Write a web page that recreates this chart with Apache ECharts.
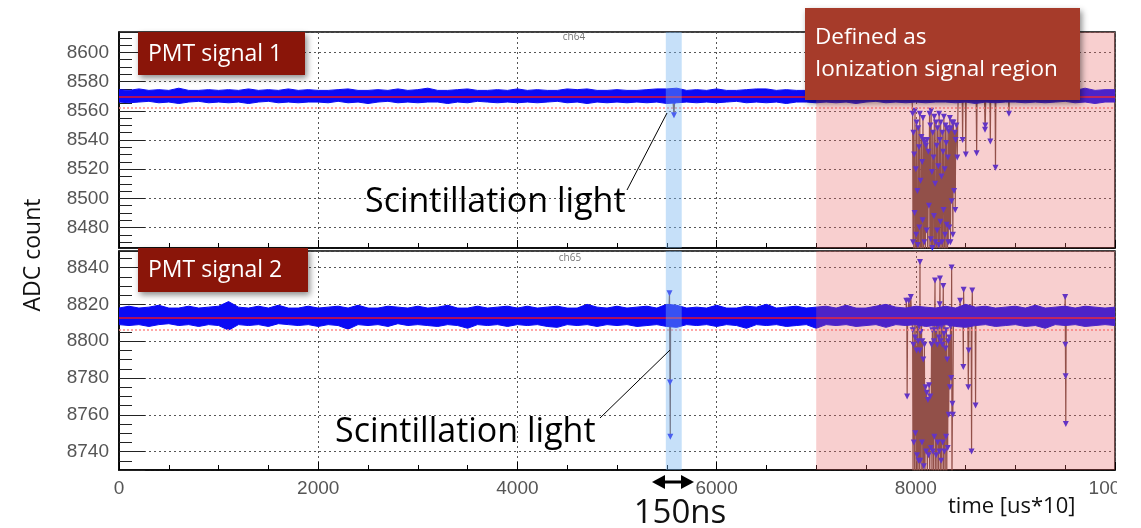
<!DOCTYPE html>
<html><head><meta charset="utf-8">
<script src="https://cdn.jsdelivr.net/npm/echarts@6/dist/echarts.min.js"></script>
<style>html,body{margin:0;padding:0;background:#fff}#c{width:1141px;height:528px}</style>
</head><body><div id="c"></div>
<script>
// ---------- data ----------
const xMin = 0, xMax = 10000, xInterval = 2000;
const topRange = [8466, 8614];
const bottomRange = [8730, 8849];
const bandStep = 100; // envelope sampled every 100 time units (0..10000)

// noise band envelope, PMT signal 1 (ch64)
const topUpper = [
8574.5,8574,8575,8574,8574.5,8574,8575.5,8574,8574,8574.5,
8574,8574.5,8574,8575,8574,8574.5,8574,8575,8574,8574.5,
8574,8574,8574.5,8575,8574,8574,8574.5,8574,8575,8574,
8574.5,8575.5,8574,8574,8574.5,8575,8574,8574,8574.5,8574,
8575,8574,8574.5,8574,8574,8575,8574.5,8575,8574,8574,
8574.5,8574,8574,8574.5,8575,8575,8575.5,8574,8574.5,8574,
8575,8574,8574,8574.5,8575,8575,8574,8574.5,8574,8574,
8574.5,8574,8575,8574,8574.5,8574,8574,8575,8574.5,8574,
8574,8574.5,8574,8574,8575,8574,8574.5,8574,8575,8574,
8574.5,8574,8574,8575,8574.5,8574,8574,8575.5,8574,8574.5,
8574.5];
const topLower = [
8566,8565.5,8566,8566.5,8565.5,8566,8565,8566,8566.5,8565.5,
8566,8565.5,8566,8565,8566,8566.5,8565.5,8566,8565.5,8566,
8566,8565.5,8566.5,8565.5,8566,8565,8566,8566.5,8565.5,8566,
8565.5,8566,8566,8565,8566,8565.5,8566.5,8566,8565.5,8566,
8565.5,8566,8565.5,8566,8566.5,8565.5,8566,8565,8566,8565.5,
8566,8565.5,8566,8565.5,8566,8565,8565.5,8566,8565.5,8566,
8565.5,8566,8566.5,8565.5,8566,8565.5,8566,8565,8566,8566,
8565.5,8566,8565.5,8566,8565,8566,8566.5,8565.5,8566,8565.5,
8566,8565.5,8566,8566,8565.5,8566,8565,8566,8565.5,8566,
8566,8565.5,8566,8565.5,8566,8566.5,8565.5,8566,8565,8566,
8566];
// noise band envelope, PMT signal 2 (ch65)
const bottomUpper = [
8818,8819,8818,8818.5,8819.5,8818,8818,8819,8818,8818.5,
8819,8821.5,8818.5,8818,8819,8818,8819.5,8818,8818,8819,
8818,8818.5,8819,8818,8819.5,8818,8818,8819,8818.5,8818,
8819,8818,8818.5,8819.5,8818,8818,8819,8818,8818.5,8819,
8818,8819,8818,8818.5,8819,8818,8818,8820,8818.5,8818,
8819,8818,8818.5,8819,8818,8820,8819.5,8818,8818.5,8818,
8819.5,8818,8818,8819,8818.5,8820,8818,8818.5,8819,8818,
8818.5,8819,8818,8819.5,8818,8818,8819,8820,8818.5,8818,
8819,8818.5,8818,8819,8818,8820,8818.5,8819,8818,8818.5,
8819,8818,8819.5,8818,8818.5,8819,8818,8819,8818.5,8818,
8818.5];
const bottomLower = [
8809,8808.5,8809,8808,8809,8809.5,8808.5,8809,8808,8809,
8808.5,8806,8809,8808.5,8809,8808,8809.5,8809,8808.5,8809,
8808,8809,8808.5,8806.5,8809,8808.5,8809,8808,8809.5,8808.5,
8809,8808.5,8808,8809,8808.5,8807,8809,8808.5,8809,8808,
8809,8808.5,8809,8808,8807.5,8809,8808.5,8809,8808,8809,
8808.5,8809,8808,8808.5,8809,8808,8807.5,8809,8808.5,8809,
8808,8809,8808.5,8807,8809,8808.5,8809,8808,8808.5,8809,
8807,8809,8808.5,8809,8808,8808.5,8809,8807.5,8809,8808.5,
8809,8808,8808.5,8809,8808,8807.5,8808.5,8809,8808,8808.5,
8809,8808,8808.5,8807,8809,8808.5,8809,8808,8808.5,8809,
8808.5];

const topMean = 8569.3, topThreshold = 8562;
const bottomMean = 8813, bottomThreshold = 8806;

// pulses (time, ADC) ch64
const topPulses = [
[5560,8569],[5572,8557],[5578,8566],[5585,8569],
[7962,8569],[7968,8558],[7972,8470],[7976,8545],[7980,8440],[7984,8530],[7988,8490],[7992,8560],
[7996,8445],[8000,8520],[8004,8475],[8008,8552],[8012,8440],[8016,8505],[8020,8468],[8024,8548],
[8028,8440],[8032,8535],[8036,8480],[8040,8558],[8044,8445],[8048,8512],[8052,8462],[8056,8542],
[8060,8440],[8064,8525],[8068,8485],[8072,8555],[8076,8440],[8080,8540],[8085,8470],[8090,8538],
[8096,8450],[8102,8536],[8108,8478],[8114,8540],[8120,8445],[8126,8532],[8132,8495],[8138,8558],
[8142,8440],[8146,8550],[8150,8472],[8154,8560],[8158,8442],[8162,8518],[8166,8466],[8170,8545],
[8174,8440],[8178,8528],[8182,8488],[8186,8556],[8190,8444],[8194,8510],[8198,8470],[8202,8552],
[8206,8440],[8210,8536],[8214,8478],[8218,8548],[8222,8442],[8226,8522],[8230,8468],[8234,8558],
[8238,8440],[8242,8540],[8246,8484],[8250,8552],[8254,8446],[8258,8515],[8262,8470],[8266,8545],
[8270,8440],[8274,8532],[8278,8492],[8282,8556],[8286,8444],[8290,8520],[8294,8475],[8298,8550],
[8302,8440],[8306,8538],[8310,8482],[8314,8548],[8318,8450],[8322,8528],[8326,8470],[8330,8546],
[8336,8480],[8342,8555],[8348,8470],[8354,8548],[8360,8498],[8366,8552],[8372,8475],[8378,8552],
[8384,8505],[8392,8545],[8396,8492],[8400,8540],[8408,8550],[8416,8528],[8425,8569],
[8466,8569],[8470,8540],[8474,8569],[8498,8569],[8502,8530],[8506,8569],
[8606,8569],[8611,8531],[8615,8569],[8690,8569],[8695,8547],[8698,8550],[8702,8569],
[8744,8569],[8748,8539],[8752,8569],[8796,8569],[8800,8521],[8804,8569],
[8930,8569],[8935,8558],[8940,8569]
];
// pulses (time, ADC) ch65
const bottomPulses = [
[5520,8813],[5527,8826],[5532,8777.5],[5535,8748],[5538,8813],
[7900,8813],[7905,8822],[7910,8813],[7913,8770],[7918,8813],[7930,8822],[7936,8813],[7950,8824],
[7958,8813],[7968,8806],[7972,8725],[7976,8798],[7980,8745],[7984,8812],[7988,8722],[7992,8802],
[7996,8750],[8000,8810],[8004,8725],[8008,8795],[8012,8738],[8016,8815],[8020,8722],[8024,8800],
[8028,8735],[8032,8808],[8036,8725],[8040,8795],[8042,8843],[8045,8735],[8050,8805],[8054,8722],
[8058,8810],[8062,8745],[8066,8800],[8070,8722],[8075,8790],[8080,8732],[8086,8798],[8092,8725],
[8098,8775],[8104,8740],[8110,8772],[8116,8725],[8122,8768],[8128,8738],[8134,8776],[8140,8722],
[8146,8770],[8152,8742],[8158,8798],[8162,8725],[8166,8806],[8170,8740],[8174,8812],[8178,8722],
[8182,8800],[8186,8748],[8190,8815],[8193,8833],[8196,8725],[8200,8806],[8204,8738],[8208,8812],
[8212,8722],[8216,8798],[8220,8745],[8224,8808],[8228,8725],[8232,8802],[8236,8740],[8240,8820],
[8243,8834],[8246,8722],[8250,8800],[8254,8735],[8258,8808],[8262,8725],[8266,8798],[8270,8745],
[8273,8815],[8276,8830],[8279,8722],[8283,8804],[8287,8740],[8291,8810],[8295,8725],[8299,8796],
[8303,8748],[8307,8806],[8311,8722],[8315,8790],[8320,8742],[8325,8800],[8330,8760],[8336,8802],
[8342,8775],[8348,8808],[8354,8780],[8358,8813],[8360,8840],[8363,8722],[8368,8766],[8372,8760],
[8378,8813],[8440,8813],[8445,8822],[8450,8813],[8474,8813],[8477,8786],[8480,8828],[8484,8813],
[8522,8813],[8527,8775],[8531,8795],[8535,8813],[8556,8813],[8560,8740],[8564,8813],[8567,8827.6],
[8571,8813],[8596,8813],[8600,8765],[8604,8813],
[9495,8813],[9500,8824],[9502,8798],[9504,8781],[9506,8755],[9510,8813]
];

const scintWindow = [5490, 5650];
const ionWindow = [7000, 10000];

// ---------- build ----------
const chart = echarts.init(document.getElementById('c'), null, {renderer: 'canvas'});
const labelFont = 'Liberation Sans, Arial, sans-serif';
const annFont = '"Open Sans", "Noto Sans", sans-serif';
const gridLine = {show: true, lineStyle: {color: '#555', type: [2, 3], width: 1}};
const plain = v => String(v);

function xAxisCfg(gi, showLabel) {
  return {
    type: 'value', gridIndex: gi, min: xMin, max: xMax, interval: xInterval,
    axisLine: {show: true, onZero: false, lineStyle: {color: '#000', width: 1.5}},
    axisTick: {show: true, inside: true, length: 8, lineStyle: {color: '#000', width: 1}},
    minorTick: {show: true, splitNumber: 4, length: 5, lineStyle: {color: '#000', width: 1}},
    axisLabel: {show: showLabel, color: '#555', fontSize: 19, fontFamily: labelFont, margin: 9, formatter: plain},
    splitLine: gridLine
  };
}
function yAxisCfg(gi, rng) {
  return {
    type: 'value', gridIndex: gi, min: rng[0], max: rng[1], minInterval: 20, maxInterval: 20, splitNumber: 7,
    axisLine: {show: true, onZero: false, lineStyle: {color: '#000', width: 1.5}},
    axisTick: {show: true, inside: true, length: 26, lineStyle: {color: '#222', width: 1}},
    minorTick: {show: true, splitNumber: 4, length: 13, lineStyle: {color: '#222', width: 1}},
    axisLabel: {show: true, color: '#555', fontSize: 19, fontFamily: labelFont, margin: 10, formatter: plain,
                showMinLabel: false, showMaxLabel: false},
    splitLine: gridLine
  };
}
function panelSeries(gi, pulses, up, lo, mean, thr) {
  return [
    {type: 'line', xAxisIndex: gi, yAxisIndex: gi, data: pulses, z: 2, showAllSymbol: true,
     symbol: 'triangle', symbolRotate: 180, symbolSize: 6,
     itemStyle: {color: '#2a22f0'}, lineStyle: {color: '#6e4a40', width: 1.2}, animation: false},
    {type: 'custom', xAxisIndex: gi, yAxisIndex: gi, z: 3, clip: true, animation: false, silent: true,
     data: [[xMin, mean]],
     renderItem: function (params, api) {
       const upPts = up.map((v, i) => api.coord([i * bandStep, v]));
       const loPts = lo.map((v, i) => api.coord([i * bandStep, v])).reverse();
       return {type: 'polygon', shape: {points: upPts.concat(loPts)},
               style: {fill: '#0a0af5', stroke: '#0a0af5', lineWidth: 1}};
     }},
    {type: 'line', xAxisIndex: gi, yAxisIndex: gi, data: [], z: 4, animation: false,
     markLine: {silent: true, z: 5, symbol: ['none', 'none'], label: {show: false}, animation: false,
       data: [
         {yAxis: mean, lineStyle: {color: '#e8102a', width: 1.5, type: 'solid'}},
         {yAxis: thr, lineStyle: {color: '#ff8a8a', width: 1.5, type: [2, 2]}}
       ]}},
    {type: 'line', xAxisIndex: gi, yAxisIndex: gi, data: [], z: 6, animation: false,
     markArea: {silent: true, z: 10, animation: false, data: [
       [{xAxis: scintWindow[0], itemStyle: {color: 'rgba(120,180,240,0.42)'}}, {xAxis: scintWindow[1]}],
       [{xAxis: ionWindow[0], itemStyle: {color: 'rgba(233,95,95,0.3)'}}, {xAxis: ionWindow[1]}]
     ]}}
  ];
}

const shadow = {shadowBlur: 6, shadowOffsetX: 2, shadowOffsetY: 3, shadowColor: 'rgba(0,0,0,0.45)'};
function txt(x, y, s, size, color, align, extra) {
  return Object.assign({type: 'text', x: x, y: y, z: 100,
    style: {text: s, fill: color, font: size + 'px ' + annFont,
            align: align, textAlign: align, verticalAlign: 'middle', textVerticalAlign: 'middle'}}, extra || {});
}

chart.setOption({
  animation: false,
  backgroundColor: '#fff',
  grid: [
    {left: 119, top: 32, right: 26, height: 216, show: true, borderColor: '#000', borderWidth: 1.5,
     backgroundColor: 'transparent', containLabel: false, outerBoundsMode: 'none'},
    {left: 119, top: 251, right: 26, height: 219, show: true, borderColor: '#000', borderWidth: 1.5,
     backgroundColor: 'transparent', containLabel: false, outerBoundsMode: 'none'}
  ],
  xAxis: [xAxisCfg(0, false), xAxisCfg(1, true)],
  yAxis: [yAxisCfg(0, topRange), yAxisCfg(1, bottomRange)],
  series: [].concat(
    panelSeries(0, topPulses, topUpper, topLower, topMean, topThreshold),
    panelSeries(1, bottomPulses, bottomUpper, bottomLower, bottomMean, bottomThreshold)
  ),
  graphic: [
    {type: 'rect', z: 90, shape: {x: 1117, y: 472, width: 30, height: 30}, style: {fill: '#fff'}},
    {type: 'rect', z: 95, shape: {x: 138, y: 32, width: 167, height: 43}, style: Object.assign({fill: '#8a1509'}, shadow)},
    {type: 'rect', z: 95, shape: {x: 138, y: 248, width: 170, height: 44}, style: Object.assign({fill: '#8a1509'}, shadow)},
    {type: 'rect', z: 95, shape: {x: 805, y: 8, width: 275, height: 92}, style: Object.assign({fill: '#a63b2a'}, shadow)},
    txt(148, 54, 'PMT signal 1', 23, '#fff', 'left'),
    txt(148, 270, 'PMT signal 2', 23, '#fff', 'left'),
    txt(815, 38, 'Defined as', 22.5, '#fff', 'left'),
    txt(815, 70, 'Ionization signal region', 22.5, '#fff', 'left'),
    txt(365, 202, 'Scintillation light', 34, '#000', 'left'),
    txt(335, 432, 'Scintillation light', 34, '#000', 'left'),
    {type: 'line', z: 100, shape: {x1: 627, y1: 190, x2: 667, y2: 113}, style: {stroke: '#000', lineWidth: 1}},
    {type: 'line', z: 100, shape: {x1: 600, y1: 418, x2: 670, y2: 350}, style: {stroke: '#000', lineWidth: 1}},
    {type: 'line', z: 100, shape: {x1: 660, y1: 482, x2: 686, y2: 482}, style: {stroke: '#000', lineWidth: 3}},
    {type: 'polygon', z: 100, shape: {points: [[652, 482], [665, 475], [665, 489]]}, style: {fill: '#000'}},
    {type: 'polygon', z: 100, shape: {points: [[694, 482], [681, 475], [681, 489]]}, style: {fill: '#000'}},
    txt(680, 514, '150ns', 33, '#111', 'center'),
    txt(948, 507, 'time [us*10]', 22, '#111', 'left'),
    txt(33, 255, 'ADC count', 23, '#111', 'center', {rotation: Math.PI / 2}),
    txt(574, 37, 'ch64', 10, '#777', 'center'),
    txt(570, 258, 'ch65', 10, '#777', 'center')
  ]
});
</script></body></html>
